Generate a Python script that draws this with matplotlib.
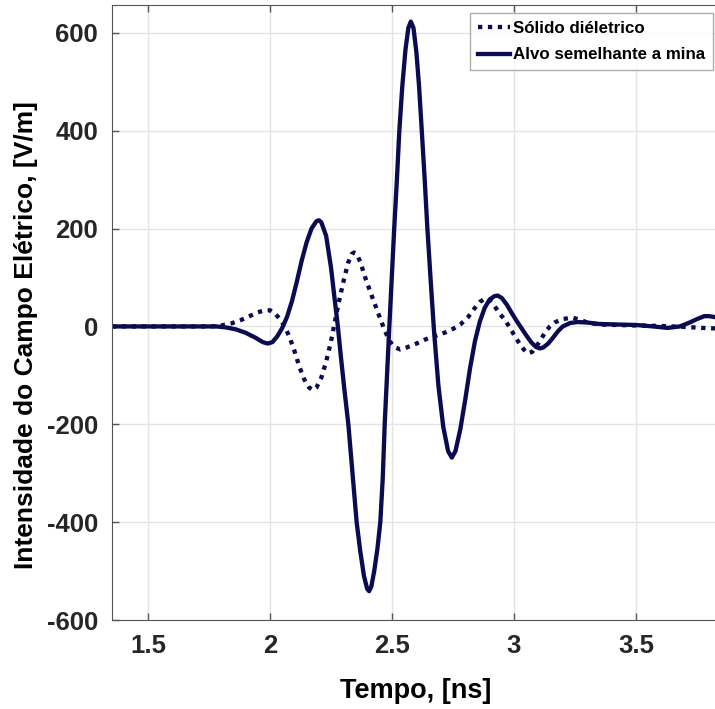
import matplotlib
matplotlib.use("Agg")
from matplotlib import pyplot as plt

plt.rcParams['font.family'] = ['Liberation Sans', 'DejaVu Sans']
plt.rcParams['axes.unicode_minus'] = False

# tempo [ns] and campo [V/m]
t_mina = [1.352, 1.6, 1.78, 1.82, 1.86, 1.90, 1.94, 1.97, 1.99, 2.01, 2.03, 2.05,
          2.07, 2.09, 2.11, 2.13, 2.15, 2.17, 2.19, 2.20, 2.21, 2.23, 2.25, 2.265,
          2.278, 2.29, 2.305, 2.321, 2.338, 2.355, 2.37, 2.385, 2.398, 2.406, 2.415,
          2.427, 2.44, 2.452, 2.462, 2.470, 2.48, 2.489, 2.499, 2.509, 2.52, 2.530,
          2.542, 2.555, 2.567, 2.577, 2.588, 2.600, 2.611, 2.622, 2.634, 2.645,
          2.659, 2.672, 2.69, 2.71, 2.73, 2.745, 2.76, 2.78, 2.80, 2.82, 2.84, 2.86,
          2.88, 2.90, 2.92, 2.934, 2.95, 2.97, 2.99, 3.01, 3.03, 3.05, 3.07, 3.09,
          3.106, 3.12, 3.14, 3.16, 3.18, 3.20, 3.23, 3.26, 3.30, 3.35, 3.42, 3.50,
          3.57, 3.63, 3.68, 3.72, 3.75, 3.78, 3.80, 3.824]
e_mina = [0, 0, 0, -2, -6, -13, -23, -32, -35, -32, -20, -3,
          20, 52, 92, 135, 172, 200, 215, 217, 213, 185, 120, 55,
          0, -60, -130, -200, -300, -400, -460, -510, -536, -541, -532,
          -500, -455, -400, -310, -200, -95, 0, 100, 200, 300, 400,
          490, 565, 610, 623, 610, 560, 490, 400, 300, 200,
          90, -8, -120, -205, -255, -268, -255, -210, -150, -85, -30, 10,
          38, 55, 62, 63, 58, 45, 28, 12, -3, -18, -32, -42,
          -45, -43, -35, -23, -10, 0, 7, 9, 8, 5, 4, 3,
          0, -3, 0, 8, 15, 21, 21, 19]

t_solido = [1.352, 1.6, 1.76, 1.80, 1.84, 1.88, 1.92, 1.95, 1.98, 2.00, 2.02, 2.04,
            2.06, 2.08, 2.10, 2.12, 2.14, 2.16, 2.176, 2.19, 2.21, 2.23, 2.25, 2.266,
            2.28, 2.30, 2.32, 2.335, 2.344, 2.355, 2.37, 2.39, 2.41, 2.43, 2.45, 2.47,
            2.49, 2.51, 2.533, 2.56, 2.60, 2.64, 2.68, 2.72, 2.75, 2.78, 2.81, 2.84,
            2.86, 2.881, 2.90, 2.92, 2.94, 2.96, 2.98, 3.00, 3.02, 3.04, 3.057, 3.075,
            3.09, 3.11, 3.13, 3.147, 3.17, 3.20, 3.237, 3.27, 3.30, 3.35, 3.42, 3.50,
            3.60, 3.70, 3.77, 3.824]
e_solido = [0, 0, 0, 2, 6, 13, 22, 29, 33, 33, 27, 15,
            0, -22, -50, -82, -108, -125, -130, -125, -105, -72, -30, 10,
            45, 90, 130, 148, 151, 148, 132, 100, 72, 45, 18, -8,
            -30, -42, -47, -43, -35, -26, -19, -12, -5, 4, 18, 38,
            50, 57, 54, 42, 27, 15, 0, -17, -33, -47, -55, -52,
            -42, -27, -10, 0, 9, 15, 18, 14, 8, 4, 3, 2,
            1, -1, -3, -4]

x_ticks = [1.5, 2, 2.5, 3, 3.5]
y_ticks = [-600, -400, -200, 0, 200, 400, 600]
cor = '#0b0b52'

fig = plt.figure(figsize=(7.15, 7.09), dpi=100)
ax = fig.add_axes([0.1566, 0.1255, 0.8434, 0.8675])

ax.plot(t_solido, e_solido, color=cor, lw=3.1, dashes=(1, 1.3), label='Sólido diéletrico')
ax.plot(t_mina, e_mina, color=cor, lw=3.1, label='Alvo semelhante a mina')

ax.set_xlim(1.352, 3.824)
ax.set_ylim(-600, 657)
ax.set_xticks(x_ticks)
ax.set_xticklabels(['1.5', '2', '2.5', '3', '3.5'])
ax.set_yticks(y_ticks)
ax.grid(True, color='#e4e4e4', lw=1)
ax.set_axisbelow(True)

ax.tick_params(direction='in', length=5, width=1, color='#555555', top=True,
               labelsize=18.5, pad=10)
for lab in ax.get_xticklabels() + ax.get_yticklabels():
    lab.set_fontweight('bold')
    lab.set_color('#262626')
ax.spines['right'].set_visible(False)
for s in ['left', 'bottom', 'top']:
    ax.spines[s].set_color('#555555')

ax.set_xlabel('Tempo, [ns]', fontsize=19.5, fontweight='bold')
ax.set_ylabel('Intensidade do Campo Elétrico, [V/m]', fontsize=19, fontweight='bold')
ax.xaxis.set_label_coords(0.504, -0.095)
ax.yaxis.set_label_coords(-0.1227, 0.463)

leg = ax.legend(loc='upper right', bbox_to_anchor=(0.997, 0.987),
                prop={'weight': 'bold', 'size': 12.2}, frameon=True, fancybox=False,
                handlelength=1.9, handletextpad=0.2, borderpad=0.45, labelspacing=0.7,
                borderaxespad=0)
leg.get_frame().set_edgecolor('#9a9a9a')
leg.get_frame().set_linewidth(1)

fig.savefig('out.png', dpi=100)
